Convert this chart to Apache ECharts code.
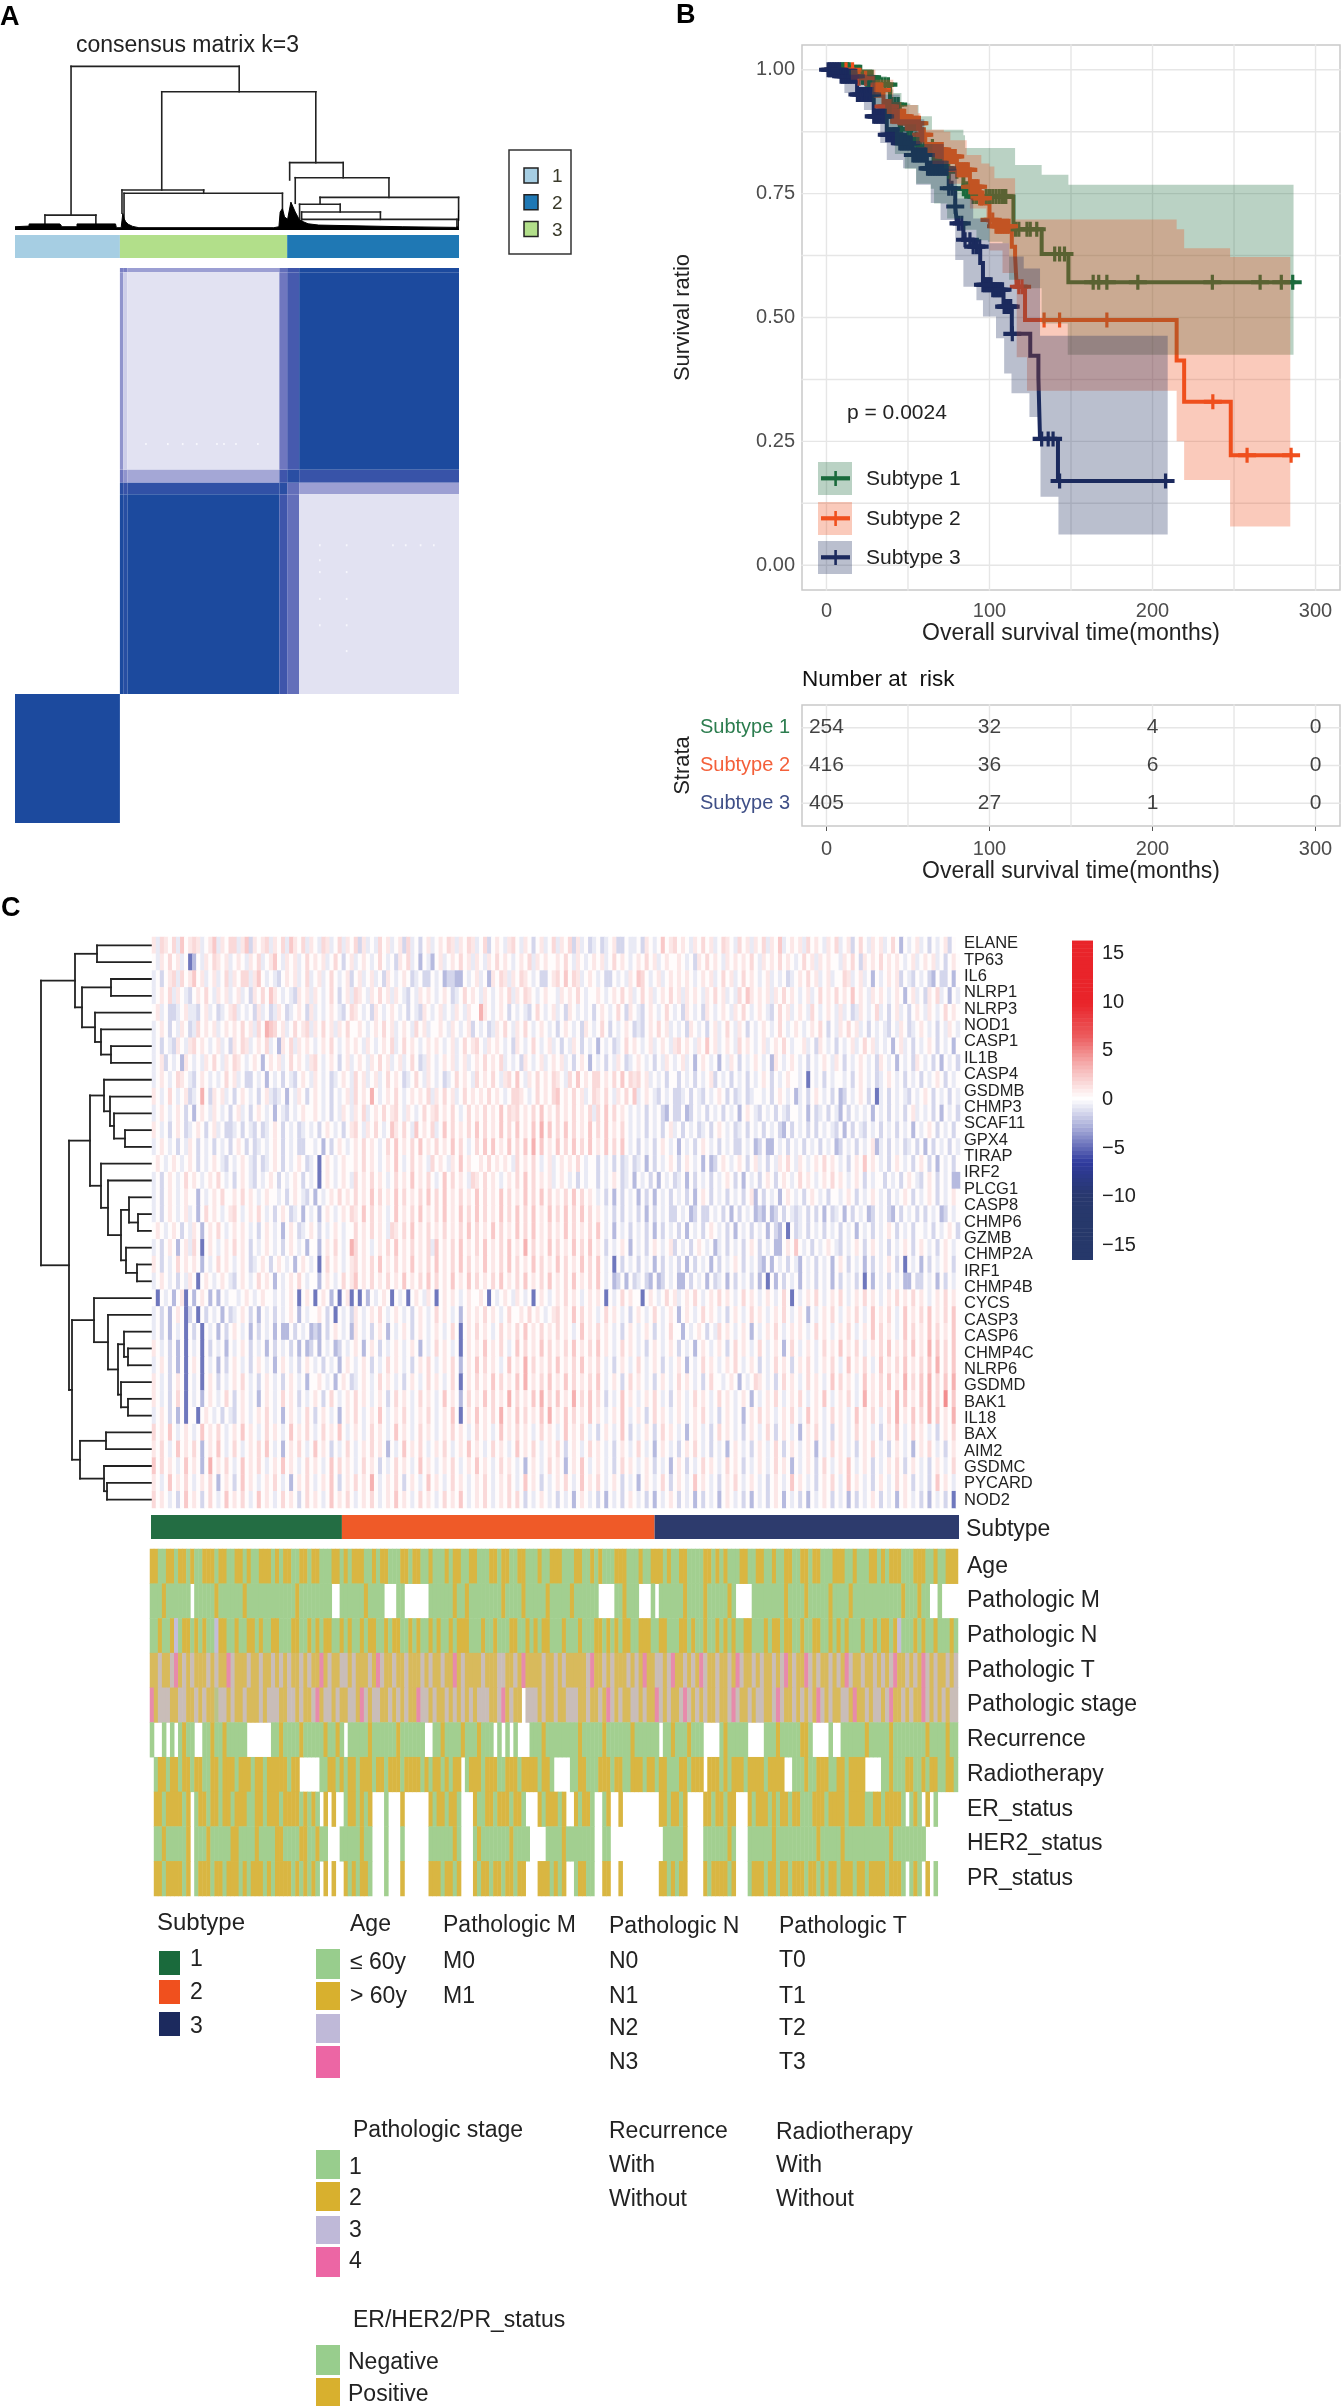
<!DOCTYPE html>
<html>
<head>
<meta charset="utf-8">
<title>Subtypes figure</title>
<script src="https://cdn.jsdelivr.net/npm/echarts@6/dist/echarts.min.js"></script>
<style>body{margin:0;background:#fff}#main{width:1342px;height:2406px}</style>
</head>
<body>
<div id="main"></div>
<script>
// ---- panel A data
var clusterSizes = [254, 405, 416];
var clusterColors = ['#a6cee3', '#b2df8a', '#1f78b4'];
var clusterLegend = ['1', '2', '3'];
var clusterLegendColors = ['#a6cee3', '#1f78b4', '#b2df8a'];
// [left rank, right rank, top height, left foot, right foot]
var aDendroLinks = [
  [135.7, 542.8, .998, .091, .843], [355.3, 728.3, .843, .244, .411], [72.5, 195.8, .091, .037, .037],
  [259, 456.8, .244, .102, .224], [264, 647.5, .224, .061, .102], [665, 794.6, .411, .305, .319],
  [678.5, 905.4, .319, .163, .199], [738.6, 1074, .199, .157, .061], [689, 787.3, .157, .041, .11],
  [694, 884.7, .11, .071, .065], [694, 1070, .065, .02, .016]
];
var aMassRank = [0, 34, 34.2, 108.7, 114, 150, 150.2, 243.4, 245.5, 257, 261, 264, 268, 274, 285, 300, 626.7, 639, 642, 647.5, 652.6, 660, 668, 678.5, 689, 709.6, 735.5, 937.5, 1067, 1073, 1074, 1075];
var aMassHeight = [.02, .024, .037, .037, .02, .02, .037, .037, .014, .014, .1, .07, .05, .035, .022, .014, .014, .02, .11, .13, .08, .065, .17, .11, .06, .038, .03, .02, .016, .02, .122, .122];
var consColEdges = [0, 254, 262, 272, 640, 659, 688, 1075];
var consRowEdges = [0, 8, 391, 416, 438, 825, 1075];
var consLevels = [
  [0, .5, .5, .42, .6, .75, 1],
  [0, .45, .3, .25, .55, .72, 1],
  [0, .55, .45, .4, .75, .9, .8],
  [0, .9, .8, .85, .9, .6, .42],
  [0, 1, .92, 1, .75, .6, .25],
  [1, 0, 0, 0, 0, 0, 0]
];
var consStops = ['#ffffff', '#e2e2f2', '#7b80c4', '#3f55ab', '#1c4a9e'];
var consDotCols = [315, 368, 404, 438, 487, 504, 533, 586, 736, 801, 913, 944, 980, 1012, 736, 736, 736, 801, 801, 801, 736, 801];
var consDotRows = [339, 339, 339, 339, 339, 339, 339, 339, 535, 535, 535, 535, 535, 535, 564, 587, 639, 587, 639, 690, 690, 740];

// ---- panel B data: step curves
var s1Time = [0, 8.6, 14.7, 21.8, 29, 39, 45, 52, 57.6, 66, 74, 84, 90, 114.7, 132, 148.4, 286.5];
var s1Surv = [1, 1, .995, .985, .97, .93, .88, .86, .845, .82, .795, .76, .744, .678, .628, .571, .571];
var s2Time = [0, 4.5, 17.8, 27, 35, 40, 49, 57.6, 60.6, 72, 80, 88, 94, 98, 100, 103, 113.7, 115.7, 116.7, 121.8, 214.8, 219.4, 248, 285];
var s2Surv = [1, 1, .983, .959, .926, .906, .892, .869, .839, .825, .798, .764, .741, .73, .697, .684, .643, .624, .562, .495, .413, .33, .222, .222];
var s3Time = [0, 2, 8.6, 18.8, 29, 37, 45, 53, 61.6, 75, 79, 80, 84, 90, 94.3, 96, 102, 108.6, 113.7, 125, 130, 131, 142, 209];
var s3Surv = [1, 1, .987, .95, .906, .869, .852, .828, .801, .761, .724, .69, .657, .643, .61, .566, .556, .522, .467, .423, .379, .255, .17, .17];
var s1HiTime = [0, 22, 29, 37, 41, 46, 51.4, 56.5, 64.7, 84, 85, 115.7, 132, 148.4, 286.5];
var s1HiSurv = [1, 1, .987, .96, .953, .932, .929, .906, .879, .868, .842, .808, .788, .768, .768];
var s1LoTime = [0, 14, 20, 28, 36, 42, 48, 55, 64, 66, 74, 80, 84, 92, 99, 108, 112, 121, 132, 148, 286.5];
var s1LoSurv = [1, .99, .97, .93, .875, .83, .8, .77, .76, .73, .7, .7, .677, .656, .653, .65, .576, .559, .488, .425, .425];
var s2HiTime = [0, 30, 41, 46, 56, 57.6, 72, 76, 86, 95, 100, 103, 115.7, 214.8, 219.4, 247.6, 284.5];
var s2HiSurv = [1, .98, .935, .929, .912, .879, .875, .858, .828, .811, .805, .781, .698, .678, .64, .622, .622];
var s2LoTime = [0, 15, 28, 40, 55, 65, 75, 88, 98, 100, 108, 116.7, 123, 214.8, 219.4, 247.6, 284.5];
var s2LoSurv = [1, .98, .95, .89, .85, .81, .77, .72, .69, .635, .59, .42, .352, .25, .172, .078, .078];
var s3HiTime = [0, 15, 30, 45, 60, 72, 80, 90, 100, 112, 121, 131, 209.3];
var s3HiSurv = [1, .99, .95, .9, .85, .8, .74, .7, .65, .623, .599, .463, .463];
var s3LoTime = [0, 11, 23, 33, 37, 47, 55, 64, 70, 79, 84, 92, 96, 104, 109, 113.5, 124.5, 131.3, 142.3, 209.3];
var s3LoSurv = [.99, .953, .919, .852, .818, .801, .768, .731, .697, .616, .562, .535, .502, .458, .387, .347, .299, .138, .062, .062];
var s1Censor = [9, 10, 11, 12, 13, 14, 15, 16, 17, 18, 19, 20, 21, 22, 23, 24, 25, 26, 27, 28, 29, 30, 32, 34, 36, 38, 40, 42, 44, 46, 50, 55, 60, 65, 70, 75, 80, 84, 86, 88, 90, 92, 98, 100, 102, 104, 106, 108, 109, 110, 116, 118, 123, 125, 129, 140, 143, 146, 163.6, 167, 172, 191, 236.7, 266, 279, 286];
var s2Censor = [12, 16, 20, 24, 28, 30, 31, 32, 33, 34, 35, 36, 37, 38, 39, 40, 41, 42, 43, 44, 45, 46, 47, 48, 49, 50, 51, 52, 53, 54, 55, 56, 57, 58, 59, 60, 61, 62, 63, 64, 65, 66, 67, 68, 69, 70, 71, 72, 73, 74, 75, 76, 77, 78, 79, 80, 81, 82, 83, 84, 85, 86, 87, 88, 89, 90, 91, 92, 93, 94, 95, 96, 100, 102, 104, 105, 106, 107, 108, 109, 110, 111, 112, 118, 120, 133.5, 143, 172, 237, 258, 285];
var s3Censor = [1, 2, 3, 4, 5, 6, 7, 8, 9, 10, 11, 12, 13, 14, 15, 16, 17, 18, 19, 20, 21, 22, 23, 24, 25, 26, 27, 28, 29, 30, 31, 32, 33, 34, 35, 36, 37, 38, 39, 40, 41, 42, 43, 44, 45, 46, 47, 48, 49, 50, 51, 52, 53, 54, 55, 56, 57, 58, 59, 60, 61, 62, 63, 64, 65, 66, 67, 68, 69, 70, 71, 72, 73, 74, 75, 77, 79, 81, 83, 85, 88, 90, 92, 94, 96, 97, 98, 99, 100, 101, 102, 103, 104, 105, 106, 107, 108, 109, 110, 111, 112, 113, 114, 132, 136, 139, 143, 208];
var subtypeNames = ['Subtype 1', 'Subtype 2', 'Subtype 3'];
var subtypeColors = ['#1a6a3c', '#f0501e', '#1c2a5e'];
var subtypeBarColors = ['#236d43', '#ef5a28', '#2d3b6d'];
var subtypeBands = ['rgba(26,106,60,.3)', 'rgba(240,80,30,.3)', 'rgba(28,42,94,.3)'];
var subtypeTextColors = ['#2c7d4f', '#f4603a', '#3f4f87'];
var riskTimes = [0, 100, 200, 300];
var riskS1 = [254, 32, 4, 0];
var riskS2 = [416, 36, 6, 0];
var riskS3 = [405, 27, 1, 0];
var timeTicks = [0, 100, 200, 300];
var survTicks = [0, .25, .5, .75, 1];
var timeGrid = [0, 50, 100, 150, 200, 250, 300];
var survGrid = [0, .125, .25, .375, .5, .625, .75, .875, 1];
var riskRowValues = [3, 2, 1];

// ---- panel C data
var genes = ['ELANE', 'TP63', 'IL6', 'NLRP1', 'NLRP3', 'NOD1', 'CASP1', 'IL1B', 'CASP4', 'GSDMB', 'CHMP3', 'SCAF11', 'GPX4', 'TIRAP', 'IRF2', 'PLCG1', 'CASP8', 'CHMP6', 'GZMB', 'CHMP2A', 'IRF1', 'CHMP4B', 'CYCS', 'CASP3', 'CASP6', 'CHMP4C', 'NLRP6', 'GSDMD', 'BAK1', 'IL18', 'BAX', 'AIM2', 'GSDMC', 'PYCARD', 'NOD2'];
// a leaf is 0, a merge is [height, upper, lower]
var geneTree = [111,
  [77, [55, 0, 0], [70, [41, 0, 0], [57, 0, [51, 0, [41, 0, 0]]]]],
  [83,
    [62,
      [48, 0, [42, 0, [38, 0, [27, 0, 0]]]],
      [51, 0, [44, 0, [31, [23, 0, [14, 0, 0]], [26, 0, [15, 0, 0]]]]]],
    [80,
      [58, 0, [44, 0, [34, [28, 0, [24, 0, 0]], [31, 0, [24, 0, 0]]]]],
      [72, [46, 0, 0], [48, 0, [45, 0, 0]]]]]];
// coarse hand reading of the expression heatmap, 200 columns, one character a cell
var heatLevels = {d: -4.8, c: -2.6, b: -1.6, a: -.9, '.': 0, '1': .9, '2': 1.5, '3': 2.2, '4': 3.2, '5': 4.5};
var heatRows = [
  "1a21.2a3.1 21a.13a1.2 2a13b1.12 a1.2a31.2a 1.a21a.2a1 .2b1a.a2.1 a.1b2a.b.1 a.1.21a1.2 1a.2b.1.a1 2.a1.b.1a. 2a1.2b1a.b a.ba.1bb.a a.b1.a.3.1 2.1.a1.2.1 a.21.a2.1a 1.2a1.3a.1 .1a2.1.a1. 2a.1b.2.a1 .1a.2.c.a. 1a.b.a.1b.",
  ".a1.2.1a.d c.a1.21.1a .1.a1.2a.1 3.a1.1a.2. 1.1a.2.b.1 a.1.a.2.a. b1.2a.c.ac .1a.1.2.1a 1.a1.2.1.a .1.2a1.1.. 1.2.a1.a.1 .1a.2.1.a. 1.2.1a.1.. 1.a.b1.2.1 .a1.1.1.2. a1.1.2.1.a .2.1a1.1.. a1.2.b1.1. 2.1.1.a.1a .1.1a.b.1.",
  "a.b.12a2.1 3.1a.1a.2a 1.22a13.a. ab.1.1a.2a .1a.2.a.1b .1a.1a.b1. a.1.ba.bb. a.cbbcc.a. 1a.c1.21a1 .21.a.bb.1 2.3.21a.1. a.bb.a.a1. 32.a.1a.1. 1.1.a.1.1a .2.1a.2.1. a.1a.a.ba. 1.2.1a.1a. .21a.1a.c. a.1.1b.ab. a.bc.bb.c.",
  "a.1.2a1.ab .1.2.a1.1a .1a.b1.2.3 1.a.ab1.1a 1.a.2.b.1a 21.a1.2.1a 1.ab.a1.1. a.1.ba.2.1 .a1.a.1.2a 1.21.a.1.. a1.1.2.a.. 1.a.1.2.1a .2.1a.1.2. 1a1.1.a1.2 .1a.a2.31. 1.1a1.2.1. a.1a.2.1.2 .1.3.1.a1. 1.a.1.c.1a .b1.2a.c.a",
  ".1a.bba.1a ab.1a.ba.1 2a.a.b1a.b a1.ba.1.b1 a.a.1.ab.2 1.a.b1.a.1 .a.b.ab1.a .1a.a1.a1. .41.a.1.b. a.ab.2.a.1 a.b1.a.a.b .1.a.2.b1. ab.1.a.2.a .b1.a.b1.a .1.a1.2.a. 1.ab.2.1a. 1.a2.a.1.a 1a.ba1.a.2 a.b.1a.b.1 .a1.a.2.1.",
  "a.1.b.a1.b a2.1.1a.1. 1.2.1a2.43 2.1a.2.12a 1.2.1a1.2. .1.a.1.2.1 a.1.a2.1a. .1.a1.a.1b .a.ba1.2.a 1.2.a.1.a. b.1.a.b1.a .2.b.a.1.b ab.1.2.1a. a.b1.a.b.1 a.2.a1.b.a .1.a.2.a.1 .a.1.2.b.a 1.2.1a.b.a .ab.a1.ba. 1.a.b.a1.a",
  "a.b.ab1.a1 2.1.a.1a.b 1.21a.1.2a .c1.2a1.1. a.1.2.a.1. 1.a1.a.1.2 a.2.1.a.1. 1.a.1a.2.1 2.a1.1.a.b 1.a.2.a.1a .b.a1.b.a. c.a.ba.2.1 .a.1a.1.a1 2.1.a1.3.1 a.1.a2.1.a .1a.1.2.a. .1a.b1.a.b .a.1a.2.1a .a.c.1a.b. a.1.b.a.c.",
  "a.1b.a.c1. a.a1.2.a1. 21.a.1.c.1 .1a.2.1.a1 2.a.1.b.1a .1.a1.2.1a .1a.2.ba1. a.1.1a.1a. 1.2.1.2a.a .b1.a.1a.1 .1a.b.1.c. a.b.a1.ba. 1.a.b.a1.a .1a.c.1.a. c.a1.b.a.1 .a.c1.a.1. a.b.a.1.a1 .b.a.1.a.b 1.a.c.a.b1 .a.b.c.a.b",
  "a.1.a.21.a b.1.a.a.2. 1a.bb.a.c. a.b.ab.1.a 1.a.ba.1.a 2.1a.1a.2. 1.ba.2.a1. a.ba.2.1.a 2.1.2.a12. 3.a1.2.1.2 1.a2.3.1.2 2.1.2.3.21 2.1a.a.b.. b.a.b.a.1b .a.b.a.b.a .1.b.a.1.. a.d.a.b.a. .a.b.1.a.b a.1.a.b.a. b.a.1.b.a.",
  "1.a.2.a.1b a.4.b1.1a. b.1.a.b.1a ba.c.a1.b. 1.a.b.a.1a 2.1.4.a.1. 2.a.1.1.2a 1.2.1a.2.1 .1.2.1.a.2 21.a.2.1.2 3.1.2.1a.2 1.2.a1.2.3 a.1.ab.a.b ba.b.ab.a. 1.b.ba.ba. .a.b.1.a.c a.b.1.a.b. cb.a.1.b.d a.b.a.ab.a .1.b.a.b.a",
  "a.1.a.1.b. c.1.a1.a.b .1a.b.1.a. c.ab.a.1.. 1.a.b.a1.a 1.2a.1.2.1 2.a1.a.2.1 2.1.2.a.2. 1.2.1.3.21 2.1.2.3.1. 2.1.2.1.2a 2.3.2.1.a. a.b.a.bc.b b.cb.a.b.a .b.a.c.1.a b.a.b.ab.. a.c.ba.b.a c.b.a.a.c. a.b.a.b.1a .a.b.c.a.b",
  "1.a.b.1.ba .1.b.1a.bb a.b.ab.ba. 1.b.a.ba.a .b.1.a.b.1 2.a1.2.a.3 1.2.a3.1.2 a.3.2.1.2. 3.2.1.3.2. 3.1.3.4.3. 2.3.2.1.3. 2.3.1.2.a. a.b.a.b.1a .b.a.ba.b. 1.a.ba.b.a .b.a.bc.b. a.b.b.a.ab .c.b.ab.a. b.a.b.a.c. a.1.b.a.b.",
  "a.1.a.b.a1 .b.a.b.a.b .1.b.ba.a. 1.b.a.bb.. a.c.b.1.a. 1.2.1.a.2. 3.1.2.3.1. 2.1.3.2.a. 2.3.3.1.3. 2.3.4.3.1. 3.2.3.2.3. 1.3.2.3.a. b.a.b.1.a. c.a.b.1.a. b.a.bb.a.c b.cc.a.b.a .b.a.b.a.c b.a.b.a.1c a.b.a.ba.b .c.b.a.b.a",
  ".1.a.1.a.1 .b.a.1.ab. a.1.ab.ba. 1.b.a.1.ba .d.1.a.1.. 1.2.1.a.1. 3.a.2.1.a2 .1.a1.3.1. .1.2.1.1.a 2.1.2.a.1a .1.1.2.a.. b.a.b.ba.b a.c.b.a.1. b.1.a.c.cb .1.a.1.b.1 a.b.a1.2.a 1.a.1.2.1. a.b.1.3.1. a.b.1.a.b. 1.b.c.a.b.",
  "a.b.1.a.2. 1.a.1.2.a. b.1.ab.a.1 .b.a.1.b.a .d.1.a.1.a 2.1.2.1.a. 2.1.3.1.2. a.3.2.1.a2 1.2.1.a.1. 2.3.2.1.1a .1.a.b.a.. b.a.1.ba.c .a.b.c.a.b a.c.b.a.b. a.1.b.c.a. b.1.b.1.a. 2.1.a.1.2. 1.a.1.b.a. .b.a.b.1.a b.1.b.a.cc",
  "a.b.1.a.1. .c.a.1.2.. 1.2.1.a.1. .a.b.1.ab. c.a.1.2.1. 2.1.3.2.1. 3.2.1.2.3. 2.3.1.2.1. 3.2.1.3.2. 1.3.2.3.2. 1.2.3.2.1. a.b.c.b.a. c.b.c.a.b. a.b.c.1.b. a.b.a.b.1c .b.a.c.1.a .b.1.a.b.. a.1.b.a.1. a.b.a.1.b. a.1.b.a.1.",
  "a.b.1.a.1a .c.2.1.a.1 2.a.1.2.a. b.1.ba.c.a .c.1.a.1.2 1.3.2.1.a. 3.1.2.3.1. 2.3.1.3.2. 3.2.1.3.2. 3.2.3.1.3. 2.3.2.3.2. 1.a.b.b.a. b.c.b.a.bb .a.cb.bb.a .b.c.b.a.c bc.cb.b.ab a.b.b.c.ba .c.b.a.cb. a.bc.b.a.b .b.a.cb.a.",
  ".1.a.1.b.a 1.c.1.2.a. 1.1.a.b.1. a.c.1.ba.1 .b.a.1.a.. 2.1.2.1.a2 1.2.3.1.2. 1.2.1.2.3. 2.1.3.2.1. 3.2.3.1.2. 1.3.2.1.2. 3.a.c.a.b. a.b.c.b.a. b.c.a.b.1. a.b.c.a.b. a.c.bc.d.b a.b.a.b.a. b.a.c.a.b. a.1.b.a.b. .a.b.a.1.b",
  "a.b.1.c.1a 2.d.1.a.1. 2.1.b.a.1. a.b.1.a.c. .c.1.2.a.4 2.1.a.1.2. 3.1.2.1.2a 3.1.2.3.1. 2.3.1.2.3. 1.4.2.1.3. 2.1.3.2.3. 1.b.a.1.c. a.b.1.a.1b .a.b.1.a.c a.b.a.b.1. b.a.cc.1.3 .a.b.a.1.a b.a.1.b.1. a.b.a.1.b. 1.a.b.1.a.",
  "1.b.a.2.1. 1.c.a.2.1. a.1.ba.1.b .1.a.c.1.a .d.2.1.a.1 2.1.2.3.1. 2.1.3.1.2. 3.1.2.3.2. 1.3.1.2.3. 2.1.3.2.1. 3.2.1.3.2. 3.a.d.b.a. b.a.c.b.a. b.c.b.a.c. b.a.1.b.a. bc.c.a.b.a c.a.b.a.c. 1.b.a.c.b. a.1.b.d.a. c.b.a.1.b.",
  "a.1.a.b.a1 .d.1.a.1.a b.1.a.2.1. c.a.1.2.a. .c.1.a.2.1 3.1.2.1.2. 1.3.1.2.3. 2.1.3.1.3. 2.1.2.3.1. 2.3.1.2.3. 1.2.3.1.2. 3.a.cb.c.b a.bc.cb.a. cc.b.a.c.b a.c.b.a.b. c.d.c.b.a. c.a.b.a.c. b.a.b.d.c. a.b.a.cc.b b.a.c.b.a.",
  ".d.a.c.1d. c.1.c.c.a. .a.1.a.1.. a.a.1.d.1. d.1.c.d.1d .d.c.a.1.d .a.d.1.a1. d.1.1.a.1. .1.d.a.1.a 1.a.d.1.a. 1.2.1.a.1. 1.d.a.2.1. .d.1.a.2.1 a.1.2.a.1. 2.1.a.2.1. a.1.a.2.d. a.1.2.a.1. 2.a.1.2.1. a.1.2.1.2. 1.a.1.2.1.",
  "a.b.c.1.db .d.b.a.c.b a.1.b.c.a. b.a.1.c.a. .1.b.d.a.b 1.a.1.2.a. 1.a.b.1.a. 2.1.a.c.1. 1.2.1.a.2. .1.2.1.a.1 2.1.3.2.1. a.2.1.a.b. 1.a.2.a.1. c.1.a.2.1. a.b.1.a.2. 1.a.1.2.a. 1.c.a.1.2. a.1.2.a.3. 1.2.a.3.1. 2.3.1.2.3.",
  "a.b.c.a.d. b.d.a.c.b. 1.a.c.b.a. c.cc.b.a.c bc.b.1.a.c 1.a.b.1.c. a.1.b.1.a. 1.a.2.d.1. 2.1.a.2.1. 2.3.1.2.1. 2.1.a.3.1. 2.1.a.b.1. a.1.b.a.2. .c.a.1.b.a 2.1.a.1.c. a.1.2.a.1. 1.a.2.1.a. 1.2.a.1.3. 2.1.a.3.2. 1.3.2.1.3.",
  "1.a.b.c.d. a.d.b.a.c. a.1.b.a.c. b.a.b.c.cb .c.a.cb.a. 1.c.1.b.a. 1.a.1.c.a. 2.1.a.d.1. 1.3.1.2.a. 3.2.1.3.2. 1.2.3.1.2. 3.1.a.2.1. a.b.1.a.1. b.a.c.1.a. 1.b.2.1.a. 2.a.1.c.2. a.1.a.2.1. 3.1.2.a.1. 2.3.1.2.3. 1.4.3.2.3.",
  "a.1.b.c.d. 1.d.a.c.b. 1.a.b.1.a. c.1.a.b.1. a.b.a.c.1. a.1.b.a.2. 1.a.b.1.2. a.1.2.c.1. 3.2.1.a.3. 1.4.2.1.2. 3.1.2.3.1. 2.a.b.1.a. 2.a.1.b.a. 1.c.a.2.1. a.1.2.a.1. b.a.2.1.b. 1.2.a.1.2. a.3.1.2.a. 3.1.2.3.1. 2.3.4.2.3.",
  "1.a.b.1.d. a.d.1.b.a. 1.2.a.b.1. a.b.1.a.c. .1.a.c.1.b a.1.a.2.1. a.b.1.a.2. 1.a.2.d.1. 2.1.3.2.1. 3.4.1.2.3. 1.3.2.1.2. 3.a.1.b.2. 1.a.b.1.a. 2.1.a.b.2. .a.1.c.a.2 1.a.b.2.1. a.2.1.a.3. 2.1.a.3.1. 2.3.1.4.2. 3.4.2.3.4.",
  "1.a.b.2.d. a.c.1.a.2. b.1.a.c.1. a.2.1.b.a. 1.b.2.a.1. 2.1.a.1.b. 2.1.a.2.1. a.3.1.c.2. 1.3.2.1.4. 2.1.3.4.2. 3.1.4.2.3. 2.b.a.3.1. a.1.2.a.b. 1.a.2.1.a. 2.1.a.1.c. a.1.2.a.1. 2.a.1.3.a. 1.2.a.4.1. 2.1.4.3.1. 3.4.2.5.3.",
  "a.1.b.c.d. .d.1.a.b.a b.1.a.1.2. a.c.1.a.2. b.1.a.c.1. 2.a.1.3.a. 1.2.a.1.2. a.1.3.d.1. 3.1.2.4.1. 3.2.1.3.4. 1.3.2.1.3. 1.a.1.3.a. 1.b.2.1.a. 1.a.1.2.a. b.1.a.c.1. 2.1.a.1.2. a.3.1.a.2. 1.a.3.1.2. a.2.4.1.3. 2.4.3.1.4.",
  "2.1.3.a.1. a.3.1.2.a. 1.3.1.a.2. 1.a.3.1.2. a.2.1.3.a. 1.a.2.1.a. 3.1.a.2.1. a.1.2.1.a. 2.1.a.3.1. 2.1.a.2.1. a.3.1.2.a. b.1.a.3.b. a.1.b.2.1. a.c.1.a.b. 2.1.a.b.1. a.2.b.1.a. c.1.2.a.b. 1.a.2.1.a. b.1.3.a.2. 1.a.b.1.2.",
  "1.2.a.3.1. 2.c.1.3.a. 2.a.1.2.3. a.c.1.2.a. 3.1.b.a.2. a.1.2.1.c. a.3.1.2.a. 1.2.a.1.3. 1.a.2.1.a. 3.1.2.a.1. 2.b.1.a.2. 1.a.b.1.a. 2.a.c.1.a. b.1.2.a.b. a.c.1.a.b. 1.a.2.b.1. a.1.c.a.2. 1.a.b.1.2. a.b.1.a.c. 1.2.a.b.1.",
  "3.2.1.a.3. 1.c.4.1.2. a.3.1.2.a. 1.3.1.a.2. 1.a.3.2.1. a.2.1.b.a. 2.1.a.3.1. a.1.2.a.1. 3.1.a.2.1. a.c.1.a.2. 1.c.1.3.a. 1.a.b.2.1. a.1.b.a.c. 1.b.a.2.1. a.2.1.b.a. 1.a.2.1.c. a.1.b.2.a. 1.3.a.1.b. a.1.2.b.1. a.b.1.a.2.",
  "1.a.3.1.2. a.1.2.c.1. b.3.1.a.1. 2.a.c.1.2. a.1.3.b.1. 2.1.4.a.1. 2.b.1.a.3. 1.a.2.1.a. 1.2.a.1.2. a.3.1.b.a. 1.2.a.3.1. 2.a.1.b.a. c.1.a.2.b. 1.a.3.1.a. b.1.2.a.1. a.b.1.a.3. 1.a.b.1.2. a.3.1.a.b. 1.a.2.1.b. a.b.3.1.a.",
  "2.1.a.b.3. 1.b.2.a.3. 1.2.a.3.1. a.2.1.b.2. 1.a.3.1.2. a.1.2.a.1. 3.1.a.2.1. a.2.1.3.a. 1.2.a.1.2. 2.b.a.1.a. b.a.c.1.a. b.c.a.b.1. a.b.c.a.1. b.a.c.b.a. c.1.a.b.c. a.b.1.c.a. b.c.a.1.b. a.c.b.a.1. b.a.c.1.a. b.c.a.b.d."
];
var annotLabels = ['Age', 'Pathologic M', 'Pathologic N', 'Pathologic T', 'Pathologic stage', 'Recurrence', 'Radiotherapy', 'ER_status', 'HER2_status', 'PR_status'];
var annotAge = "yyggyygyyg yggyyygyyg gyygyggyyy gygyyggyyg yygggyygyg yyyggygyyg ggyygyyggy gggygyyggy ygggyygyyg gyygggyggy yygggyyggy gygggyyygg gyggyyygyg gyyggggyyg ygygggyygg yyggyggyyg gyygyygggy yyggygggyy gygyyygggy yyggyggyyy";
var annotM = "gggygggggg _gggggyggg gggygggggg ggggggyggg ggggg__ggg gggygggg__ _gg______g gggggyggyg gggggggygg ggygggggyg ggggyggggg g____ggygg g___g_gggg ggyggggygg gggyg____g gggggggygg ggygggggyg gggygggggg ggggggyggg ygg__g____";
var annotN = "ggyggylgyy gygygglyyg gyggyygygg yygggyyggy gygyyggygy ggygyyggyg yyggygyggy gyggygyyyg ggyggygggy yggygygyyg ggygggyggg yygygygyyg gyyyggyygg gyygyggygg ygygyggyyg ggygyygyyg gyggyyggyg ygygggyggy gyygylgggy gyggygggyg";
var annotT = "yylyylpyly lyyylylyyp lyyylyylyy lylylyylyl yypylyylly lyyylyplyy lyylyyylyl yylyypylyy yylyyyllyy lypyyyylyy lylyyyyylp yylylyyyly lypyyllylp yylylyplyy lyylyplyyl ylyylylpyl yyplylyyly lyplyylyyl ylylpyylyl yplylyylyl";
var annotStage = "pylllyylly ylylyyglly lyylyyylyl llyyllylyy lpyllylyyl lyplyllyyl ylylyyplly lyylylylyl ylllyylpyl yy_lllylyy lyylllyyly ylyplylyyl lylyyplyly ylplylylyy lyylplyyly llyylplyyl ylylyplyly yllypyylyl lylpyylyly yplylylyll";
var annotRecurrence = "g__g_g_gyg g__ggyggyg gggg______ ggyggggygg gggyggyg_g ggggyggggg gygggggg__ ggyggggygg gyggg_g_g_ g___gggygg ggggggyggg ggyggggggy gggggg_ggy gggyggg___ _gyggggg__ __gggygggg gyyg____g_ _ggggggygg gggygggggg ggyggggygg";
var annotRadio = "_gyygyygyy gyyggyygyy ygyyygyygy yyyygyy___ __ggyygygy ygyyygyygy yygyyyygyg yygygyy_gy yygyyyggyy ygyyyygyyg ____ggyygg gyyygyyggy yygyygyygg gyygyyy_yy ygygyyygyy yygyyyy__g ggyggyyygg yygyyyy___ _ggygggyyg gygyyggyyg gggyggyggg";
var annotER = "_yygyyyygy _gyygyygyy gyyyggyygy yygyyyygyg yg_y_y__gy ygygy___g_ __y______y gyygyyg___ yggyygyyyg yyg___ygyy ygy__ygyyg __gy__y___ ______yygy ygy____yyg yygyy___yg yyygygyygy ygggyyygyy yygyyyyggy ygyyyyg_gy g_y_g_____";
var annotHER2 = "_ggygggggy _gggyggggg yyggggyggg gyyggggyyg gygg___ggg ggygg___g_ __g______g gggggyg___ gygggggggy gggg____gg ggyggggggg __gg______ _______ggg ggy____ggg gggyg___gg ggggyggggg gggggygggg gygggggggg gggygggggg gg________";
var annotPR = "_yygyyyygy _gyyygyygy yygygyyygy gyyyygygyg yg_y_y__yg ygyyg___g_ __y______y yygyygy___ ygyygyygyy gyy___yyyg ygy__gyygg __yy__y___ ______yygy gyy____ygy yyygy___gy yygyygyygy yygyygygyy gyyygyygyy yygyyyg_gy g_y_g_____";
var annotRows = [annotAge, annotM, annotN, annotT, annotStage, annotRecurrence, annotRadio, annotER, annotHER2, annotPR];
var annotColors = {g: '#a2cf90', y: '#d9b642', l: '#c3bdd8', p: '#ec6aa6'};
var annotMutedColors = {g: '#b8c48a', y: '#d8ba5c', l: '#c9bdb8', p: '#e78bab'};
var annotMutedRows = ['Pathologic T', 'Pathologic stage'];
var colorbarTicks = [-15, -10, -5, 0, 5, 10, 15];
var legendGreen = '#98cd8d', legendGold = '#d8b02e', legendLilac = '#bfb9d8', legendPink = '#ec66a4';

// ---- helpers
var FONT = '"Liberation Sans", Arial, sans-serif';
var series = [], grids = [], xAxes = [], yAxes = [], graphics = [];

function addGrid(left, top, width, height, xa, ya, extra) {
  var g = {left: left, top: top, width: width, height: height, containLabel: false};
  if (extra) Object.assign(g, extra);
  grids.push(g);
  var i = grids.length - 1;
  xa.gridIndex = i; ya.gridIndex = i;
  if (xa.show === undefined) xa.show = false;
  if (ya.show === undefined) ya.show = false;
  xAxes.push(xa); yAxes.push(ya);
  return i;
}
function segSeries(gi, segs, color, width, z) {
  series.push({
    type: 'custom', xAxisIndex: gi, yAxisIndex: gi, z: z || 2, silent: true, clip: false, data: segs,
    renderItem: function (params, api) {
      var s = segs[params.dataIndex], a = api.coord([s[0], s[1]]), b = api.coord([s[2], s[3]]);
      return {type: 'line', shape: {x1: a[0], y1: a[1], x2: b[0], y2: b[1]}, style: {stroke: color, lineWidth: width, lineCap: 'square'}};
    }
  });
}
function rectSeries(gi, rects, z) {
  series.push({
    type: 'custom', xAxisIndex: gi, yAxisIndex: gi, z: z || 2, silent: true, data: rects.map(function (r) { return r.slice(0, 4); }),
    renderItem: function (params, api) {
      var r = rects[params.dataIndex], a = api.coord([r[0], r[1]]), b = api.coord([r[2], r[3]]);
      return {type: 'rect', shape: {x: Math.min(a[0], b[0]), y: Math.min(a[1], b[1]), width: Math.abs(b[0] - a[0]), height: Math.abs(b[1] - a[1])}, style: {fill: r[4]}};
    }
  });
}
function text(str, x, y, size, opt) {
  opt = opt || {};
  graphics.push({
    type: 'text', z: 100, x: x, y: y, rotation: opt.rotation || 0, silent: true,
    style: {text: str, font: (opt.weight || 'normal') + ' ' + size + 'px ' + FONT, fill: opt.color || '#222', textAlign: opt.align || 'left', textVerticalAlign: 'middle', align: opt.align || 'left', verticalAlign: 'middle'}
  });
}
function box(x, y, w, h, fill, stroke, lw) {
  graphics.push({type: 'rect', z: 99, silent: true, shape: {x: x, y: y, width: w, height: h}, style: {fill: fill, stroke: stroke || null, lineWidth: lw || 0}});
}
function stripSpaces(s) { return s.replace(/ /g, ''); }

// ---- panel A
var lg = addGrid(15, 66, 444, 164, {type: 'value', min: 0, max: 1075}, {type: 'value', min: 0, max: 1});
var aSegs = [];
aDendroLinks.forEach(function (l) {
  aSegs.push([l[0], l[2], l[1], l[2]], [l[0], l[2], l[0], l[3]], [l[1], l[2], l[1], l[4]]);
});
segSeries(lg, aSegs, '#222', 1.6);
series.push({
  type: 'line', xAxisIndex: lg, yAxisIndex: lg, showSymbol: false, silent: true, z: 3,
  data: aMassRank.map(function (r, i) { return [r, aMassHeight[i]]; }),
  lineStyle: {color: '#000', width: 1}, areaStyle: {color: '#000', opacity: 1}
});
var barG = addGrid(15, 235, 444, 23, {type: 'value', min: 0, max: 1075}, {type: 'value', min: 0, max: 1});
var acc = 0;
rectSeries(barG, clusterSizes.map(function (n, i) { var r = [acc, 0, acc + n, 1, clusterColors[i]]; acc += n; return r; }));
var consG = addGrid(15, 268, 444, 555, {type: 'value', min: 0, max: 1075}, {type: 'value', min: 0, max: 1075, inverse: true});
var consRects = [];
consLevels.forEach(function (row, r) {
  row.forEach(function (v, c) {
    if (v > 0) consRects.push([consColEdges[c], consRowEdges[r], consColEdges[c + 1], consRowEdges[r + 1], echarts.color.lerp(v, consStops)]);
  });
});
consDotCols.forEach(function (c, i) { consRects.push([c, consDotRows[i], c + 4, consDotRows[i] + 4, '#f7f7fd']); });
rectSeries(consG, consRects);
box(509, 150, 62, 104, '#fff', '#333', 1.5);
clusterLegend.forEach(function (t, i) {
  box(524, 168 + i * 26.7, 14, 15, clusterLegendColors[i], '#222', 1.5);
  text(t, 552, 177 + i * 26.7, 19, {color: '#3a3a2a'});
});
text('A', 0, 18, 27, {weight: 'bold', color: '#000'});
text('consensus matrix k=3', 76, 46, 23, {color: '#222'});

// ---- panel B
function lookupStep(times, vals, t) {
  var v = vals[0];
  for (var i = 0; i < times.length; i++) if (times[i] <= t) v = vals[i];
  return v;
}
var kmAxisText = {color: '#4d4d4d', fontFamily: FONT, fontSize: 20};
var kmG = addGrid(802, 45, 538, 545,
  {type: 'value', show: true, min: -15, max: 315, splitLine: {show: false}, axisLine: {show: false},
   axisTick: {show: true, length: 5, customValues: timeTicks, lineStyle: {color: '#555'}},
   axisLabel: Object.assign({customValues: timeTicks, margin: 11}, kmAxisText),
   name: 'Overall survival time(months)', nameLocation: 'middle', nameGap: 32, nameTextStyle: {fontFamily: FONT, fontSize: 23, color: '#222'}},
  {type: 'value', show: true, min: -.05, max: 1.05, splitLine: {show: false}, axisLine: {show: false},
   axisTick: {show: true, length: 5, customValues: survTicks, lineStyle: {color: '#555'}},
   axisLabel: Object.assign({customValues: survTicks, margin: 7, formatter: function (v) { return v.toFixed(2); }}, kmAxisText),
   name: 'Survival ratio', nameLocation: 'middle', nameGap: 108, nameTextStyle: {fontFamily: FONT, fontSize: 22, color: '#222'}},
  {show: true, borderColor: '#c9c9c9', borderWidth: 1.5});
segSeries(kmG, timeGrid.map(function (t) { return [t, -.05, t, 1.05]; }), '#e6e6e6', 1.4, 1);
segSeries(kmG, survGrid.map(function (v) { return [-15, v, 315, v]; }), '#e6e6e6', 1.4, 1);
var kmTimes = [s1Time, s2Time, s3Time], kmSurv = [s1Surv, s2Surv, s3Surv], kmCensor = [s1Censor, s2Censor, s3Censor];
var bandHiT = [s1HiTime, s2HiTime, s3HiTime], bandHiV = [s1HiSurv, s2HiSurv, s3HiSurv];
var bandLoT = [s1LoTime, s2LoTime, s3LoTime], bandLoV = [s1LoSurv, s2LoSurv, s3LoSurv];
var PLUS = 'path://M-9,-1.9H-1.6V-7H1.6V-1.9H9V1.9H1.6V7H-1.6V1.9H-9Z';
subtypeNames.forEach(function (name, k) {
  series.push({
    type: 'line', name: name, xAxisIndex: kmG, yAxisIndex: kmG, step: 'end', showSymbol: false, silent: true, z: 3,
    data: kmTimes[k].map(function (t, i) { return [t, kmSurv[k][i]]; }),
    lineStyle: {color: subtypeColors[k], width: 4, cap: 'square', join: 'miter'}
  });
  series.push({
    type: 'scatter', xAxisIndex: kmG, yAxisIndex: kmG, silent: true, z: 3, symbol: PLUS, symbolSize: [18, 15],
    data: kmCensor[k].map(function (t) { return [t, lookupStep(kmTimes[k], kmSurv[k], t)]; }),
    itemStyle: {color: subtypeColors[k], opacity: 1}
  });
});
subtypeNames.forEach(function (name, k) {
  series.push({
    type: 'custom', xAxisIndex: kmG, yAxisIndex: kmG, z: 4, silent: true, data: [[0, 1]],
    renderItem: function (params, api) {
      var pts = [], hT = bandHiT[k], hV = bandHiV[k], lT = bandLoT[k], lV = bandLoV[k], i;
      for (i = 0; i < hT.length; i++) {
        if (i > 0) pts.push(api.coord([hT[i], hV[i - 1]]));
        pts.push(api.coord([hT[i], hV[i]]));
      }
      for (i = lT.length - 1; i >= 0; i--) {
        pts.push(api.coord([lT[i], lV[i]]));
        if (i > 0) pts.push(api.coord([lT[i], lV[i - 1]]));
      }
      return {type: 'polygon', shape: {points: pts}, style: {fill: subtypeBands[k]}};
    }
  });
});
var riskG = addGrid(802, 705, 538, 121,
  {type: 'value', show: true, min: -15, max: 315, splitLine: {show: false}, axisLine: {show: false},
   axisTick: {show: true, length: 5, customValues: timeTicks, lineStyle: {color: '#555'}},
   axisLabel: Object.assign({customValues: timeTicks, margin: 13}, kmAxisText),
   name: 'Overall survival time(months)', nameLocation: 'middle', nameGap: 32, nameTextStyle: {fontFamily: FONT, fontSize: 23, color: '#222'}},
  {type: 'value', show: true, min: .4, max: 3.6, splitLine: {show: false}, axisLine: {show: false},
   axisTick: {show: true, length: 5, customValues: riskRowValues, lineStyle: {color: '#999'}},
   axisLabel: {customValues: riskRowValues, margin: 12, fontFamily: FONT, fontSize: 20,
     formatter: function (v) { return subtypeNames[3 - v]; },
     color: function (v) { return subtypeTextColors[3 - Number(v)] || subtypeTextColors[subtypeNames.indexOf(v)]; }},
   name: 'Strata', nameLocation: 'middle', nameGap: 108, nameTextStyle: {fontFamily: FONT, fontSize: 22, color: '#222'}},
  {show: true, borderColor: '#c9c9c9', borderWidth: 1.5});
segSeries(riskG, timeGrid.map(function (t) { return [t, .4, t, 3.6]; }), '#e6e6e6', 1.4, 1);
segSeries(riskG, riskRowValues.map(function (v) { return [-15, v, 315, v]; }), '#e6e6e6', 1.4, 1);
var riskPts = [];
[riskS1, riskS2, riskS3].forEach(function (row, k) {
  row.forEach(function (n, i) { riskPts.push([riskTimes[i], riskRowValues[k], n]); });
});
series.push({
  type: 'scatter', xAxisIndex: riskG, yAxisIndex: riskG, symbolSize: 0, silent: true, z: 5, data: riskPts,
  label: {show: true, position: 'inside', formatter: function (p) { return String(p.value[2]); }, fontFamily: FONT, fontSize: 21, color: '#111'}
});
text('B', 676, 16, 27, {weight: 'bold', color: '#000'});
text('p = 0.0024', 847, 413, 21, {color: '#222'});
text('Number at  risk', 802, 680, 22.5, {color: '#111'});
var keyTops = [462, 502, 541];
subtypeNames.forEach(function (name, k) {
  var t = keyTops[k];
  box(818, t, 34, 33, subtypeBands[k]);
  box(821, t + 14.2, 29, 4.2, subtypeColors[k]);
  box(834.3, t + 9, 2.6, 15, subtypeColors[k]);
  text(name, 866, t + 17, 21, {color: '#222'});
});

// ---- panel C
var dG = addGrid(40.7, 937, 111.3, 571, {type: 'value', min: 0, max: 111.3, inverse: true}, {type: 'value', min: 0, max: 34, inverse: true});
var dSegs = [], leafCursor = 0;
function walkTree(node) {
  if (node === 0) { leafCursor++; return {h: 0, y: leafCursor - .5}; }
  var a = walkTree(node[1]), b = walkTree(node[2]);
  dSegs.push([node[0], a.y, node[0], b.y], [node[0], a.y, a.h, a.y], [node[0], b.y, b.h, b.y]);
  return {h: node[0], y: (a.y + b.y) / 2};
}
walkTree(geneTree);
segSeries(dG, dSegs, '#222', 1.8);

var heatCols = [];
for (var hc = 0; hc < 200; hc++) heatCols.push(String(hc));
var heatRowIds = heatRows.map(function (r, i) { return String(i); });
var heatG = addGrid(152, 937, 808, 571, {type: 'category', data: heatCols}, {type: 'category', data: heatRowIds, inverse: true});
var heatData = [];
heatRows.forEach(function (row, r) {
  var s = stripSpaces(row);
  for (var c = 0; c < s.length && c < 200; c++) heatData.push([c, r, heatLevels[s[c]]]);
});
var heatSeriesIndex = series.length;
series.push({type: 'heatmap', xAxisIndex: heatG, yAxisIndex: heatG, data: heatData, silent: true, progressive: 0, itemStyle: {opacity: 1}});

var geneG = addGrid(152, 935.5, 808, 573, {type: 'category', data: ['x']},
  {type: 'category', show: true, position: 'right', inverse: true, data: genes, axisLine: {show: false}, axisTick: {show: false},
   axisLabel: {interval: 0, margin: 4, fontFamily: FONT, fontSize: 16.5, color: '#222'}, splitLine: {show: false}});
series.push({type: 'custom', xAxisIndex: geneG, yAxisIndex: geneG, data: [], renderItem: function () { return null; }});

var subG = addGrid(151, 1515, 808, 24, {type: 'value', min: 0, max: 1075}, {type: 'value', min: 0, max: 1});
var acc2 = 0;
rectSeries(subG, [254, 416, 405].map(function (n, i) { var r = [acc2, 0, acc2 + n, 1, subtypeBarColors[i]]; acc2 += n; return r; }));
text('Subtype', 966, 1530, 23);

var annG = addGrid(150, 1549, 808, 347, {type: 'category', data: heatCols},
  {type: 'category', show: true, position: 'right', inverse: true, data: annotLabels, axisLine: {show: false}, axisTick: {show: false},
   axisLabel: {interval: 0, margin: 9, fontFamily: FONT, fontSize: 23, color: '#222'}, splitLine: {show: false}});
var annData = [];
annotRows.forEach(function (row, r) {
  var s = stripSpaces(row);
  var palette = annotMutedRows.indexOf(annotLabels[r]) >= 0 ? annotMutedColors : annotColors;
  for (var c = 0; c < s.length && c < 200; c++) {
    if (s[c] !== '_') annData.push({value: [c, annotLabels[r], 1], itemStyle: {color: palette[s[c]]}});
  }
});
series.push({type: 'heatmap', xAxisIndex: annG, yAxisIndex: annG, data: annData, silent: true, progressive: 0});

var cbG = addGrid(1072, 942, 21, 318, {type: 'value', min: 0, max: 1},
  {type: 'value', show: true, position: 'right', min: -16.5, max: 16.2, splitLine: {show: false}, axisLine: {show: false},
   axisTick: {show: false, customValues: colorbarTicks},
   axisLabel: {customValues: colorbarTicks, margin: 9, fontFamily: FONT, fontSize: 20, color: '#222', formatter: function (v) { return String(v).replace('-', '\u2212'); }}});
var cbSteps = [];
for (var cv = -16.5; cv < 16.2; cv += .4) cbSteps.push(cv);
var cbSeriesIndex = series.length;
series.push({
  type: 'custom', xAxisIndex: cbG, yAxisIndex: cbG, silent: true, data: cbSteps.map(function (v) { return [0, v, v]; }),
  renderItem: function (params, api) {
    var v = api.value(1), a = api.coord([0, v + .45]), b = api.coord([1, v]);
    return {type: 'rect', shape: {x: a[0], y: a[1], width: b[0] - a[0], height: b[1] - a[1]}, style: {fill: api.visual('color')}};
  }
});

text('C', 1, 909, 27, {weight: 'bold', color: '#000'});
// legend blocks
text('Subtype', 157, 1923, 24);
subtypeColors.forEach(function (c, i) {
  box(159, [1951, 1980, 2012][i], 21, 24, c);
  text(String(i + 1), 190, [1960, 1993, 2027][i], 23);
});
var fourSwatches = [legendGreen, legendGold, legendLilac, legendPink];
[[1949, 30], [1982, 28], [2014, 29], [2046, 32]].forEach(function (b, i) { box(316, b[0], 24, b[1], fourSwatches[i]); });
[[2150, 29], [2182, 29], [2216, 28], [2247, 30]].forEach(function (b, i) { box(316, b[0], 24, b[1], fourSwatches[i]); });
[[2345, 30], [2378, 28]].forEach(function (b, i) { box(316, b[0], 24, b[1], fourSwatches[i]); });
[['Age', 350, 1925], ['\u2264 60y', 350, 1963], ['> 60y', 350, 1997],
 ['Pathologic M', 443, 1926], ['M0', 443, 1962], ['M1', 443, 1997],
 ['Pathologic N', 609, 1927], ['N0', 609, 1962], ['N1', 609, 1997], ['N2', 609, 2029], ['N3', 609, 2063],
 ['Pathologic T', 779, 1927], ['T0', 779, 1961], ['T1', 779, 1997], ['T2', 779, 2029], ['T3', 779, 2063],
 ['Pathologic stage', 353, 2131], ['1', 349, 2168], ['2', 349, 2199], ['3', 349, 2231], ['4', 349, 2262],
 ['Recurrence', 609, 2132], ['With', 609, 2166], ['Without', 609, 2200],
 ['Radiotherapy', 776, 2133], ['With', 776, 2166], ['Without', 776, 2200],
 ['ER/HER2/PR_status', 353, 2321], ['Negative', 348, 2363], ['Positive', 348, 2395]
].forEach(function (t) { text(t[0], t[1], t[2], 23); });

var chart = echarts.init(document.getElementById('main'));
chart.setOption({
  animation: false,
  backgroundColor: '#fff',
  grid: grids, xAxis: xAxes, yAxis: yAxes,
  visualMap: [{
    type: 'continuous', show: false, min: -16.5, max: 16.2, dimension: 2,
    seriesIndex: [heatSeriesIndex, cbSeriesIndex],
    inRange: {color: ['#26386a', '#26386a', '#28386e', '#2f3a9e', '#9ea3d4', '#ffffff', '#f6b4b4', '#ec5a5c', '#e9242a', '#e9242a', '#e9242a']}
  }],
  series: series,
  graphic: {elements: graphics}
});
</script>
</body>
</html>
